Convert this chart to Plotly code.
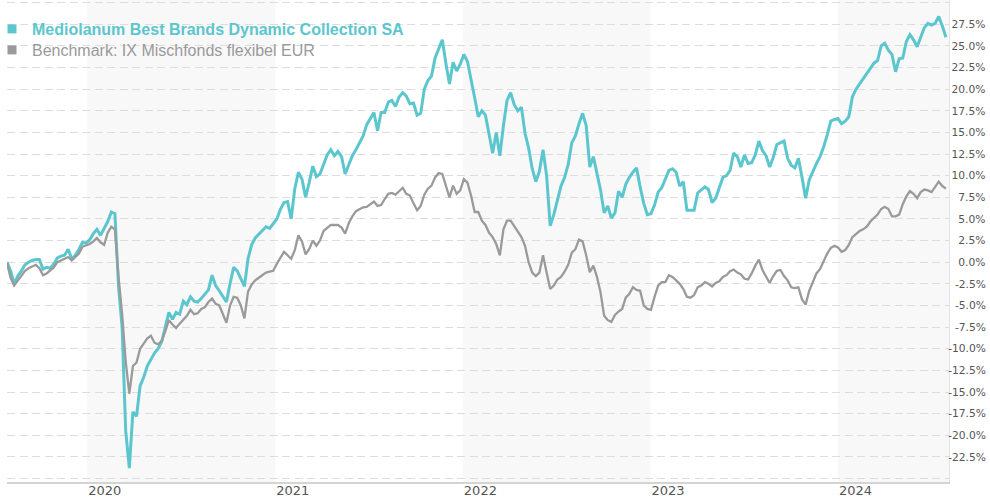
import pandas as pd
import plotly.graph_objects as go

start_date = "2019-07-29"

fund_values = [
    0.0, -1.0, -2.5, -1.6, -1.0, -0.3, 0.0, 0.2, 0.3, 0.3,
    -0.8, -0.6, -0.7, -0.2, 0.5, 0.7, 0.8, 1.5, 0.4, 0.8,
    1.5, 2.3, 2.2, 2.6, 3.3, 3.8, 3.1, 3.9, 4.7, 5.8,
    5.6, -2.8, -7.5, -19.5, -23.8, -17.3, -17.8, -14.3, -13.3, -12.0,
    -11.2, -10.5, -10.0, -9.2, -7.5, -5.8, -6.6, -5.8, -6.0, -4.5,
    -4.9, -4.0, -4.5, -4.6, -4.2, -3.65, -3.2, -1.5, -2.7, -3.3,
    -3.9, -4.6, -2.5, -0.6, -1.0, -2.0, -2.8, 0.4, 2.0, 2.8,
    3.2, 3.7, 4.1, 3.9, 4.4, 5.0, 6.1, 6.9, 7.0, 5.0,
    8.5, 10.4, 9.6, 7.5, 9.2, 11.1, 9.9, 10.2, 11.3, 12.4,
    13.0, 12.3, 12.8, 12.2, 10.2, 11.2, 12.3, 13.0, 13.8, 14.6,
    15.9, 16.6, 17.3, 15.2, 17.3, 17.3, 18.5, 18.7, 18.0, 19.1,
    19.6, 19.2, 18.3, 18.4, 17.0, 17.2, 20.0, 21.0, 21.5, 23.6,
    24.7, 25.7, 23.0, 20.6, 23.1, 22.1, 22.9, 24.0, 23.2, 20.9,
    19.0, 16.8, 17.5, 17.0, 15.0, 12.6, 15.0, 12.3, 15.8, 18.7,
    19.6, 18.2, 17.5, 17.9, 14.9, 13.2, 10.8, 9.3, 10.5, 13.0,
    10.0, 4.2, 5.5, 7.2, 8.8, 9.8, 11.3, 13.8, 14.6, 16.0,
    17.2, 15.8, 11.0, 12.2, 10.2, 8.3, 5.7, 6.5, 5.1, 5.7,
    8.2, 7.5, 9.0, 9.8, 10.4, 10.9, 8.7, 6.8, 5.5, 5.6,
    6.6, 8.1, 8.6, 9.6, 10.6, 10.8, 10.4, 8.8, 9.3, 6.0,
    6.0, 6.0, 8.0, 8.4, 8.7, 8.4, 6.9, 7.4, 8.6, 9.8,
    10.0, 10.6, 12.6, 12.2, 11.0, 12.4, 11.4, 11.5, 12.4, 14.0,
    12.9, 12.3, 11.0, 12.1, 13.6, 13.8, 14.0, 12.0, 11.2, 10.9,
    12.0, 9.8, 7.4, 9.5, 10.5, 11.4, 12.2, 13.3, 14.7, 16.3,
    16.5, 16.6, 16.0, 16.3, 16.8, 19.1, 20.0, 20.6, 21.3, 21.8,
    22.4, 23.0, 23.3, 25.0, 25.3, 24.5, 24.0, 22.0, 23.5, 23.6,
    25.5, 26.3, 25.7, 24.9, 26.0, 27.1, 27.6, 27.4, 27.6, 28.4,
    27.3, 26.0,
]

benchmark_values = [
    -0.1, -1.8, -2.7, -2.1, -1.6, -1.0, -0.7, -0.5, -0.3, -0.7,
    -1.5, -1.3, -0.9, -0.6, 0.0, 0.2, 0.4, 0.6, 0.2, 0.6,
    1.0, 1.8, 1.95, 2.1, 2.4, 2.8, 2.3, 2.0, 3.4, 4.1,
    3.8, -1.7, -6.0, -11.5, -15.2, -12.0, -11.6, -10.0, -9.4, -8.8,
    -8.5, -9.3, -9.5, -9.1, -8.0, -6.7, -7.2, -7.6, -7.1, -6.7,
    -6.2, -5.5, -6.0, -5.9, -5.4, -5.2, -4.6, -4.2, -4.8, -5.0,
    -5.9, -7.0, -5.0, -4.0, -4.1, -5.0, -6.5, -3.4, -2.6, -2.1,
    -1.8, -1.5, -1.2, -1.1, -1.0, -0.2, 0.5, 1.2, 0.8, 0.4,
    1.4, 3.1, 2.4, 0.9, 1.5, 2.5, 1.9, 2.5, 3.6, 4.0,
    4.3, 4.3, 4.3, 4.0, 3.3, 4.5, 5.3, 5.9, 6.15, 6.35,
    6.4, 6.7, 7.0, 6.5, 6.6, 7.3, 7.9, 8.0, 7.8, 8.2,
    8.6, 7.9, 7.7, 6.8, 6.0, 6.5, 7.8, 8.5, 8.85, 9.8,
    10.3, 10.2, 8.8, 7.5, 8.85, 7.9, 8.3, 9.6, 9.2, 7.7,
    5.8, 5.8, 4.8, 4.3, 3.4, 2.9, 2.1, 0.8, 3.8, 4.8,
    4.8, 4.2, 3.5, 2.9, 1.9, 0.0, -1.2, -1.6, -1.2, 0.8,
    -1.2, -3.1, -2.7, -2.0, -1.7, -1.1, -0.3, 1.1, 1.5, 2.6,
    2.4, 0.8, -1.15, -0.4, -1.7, -3.5, -6.2, -6.7, -6.9, -6.1,
    -5.7, -5.4, -4.1, -3.65, -2.9, -3.2, -3.3, -5.0, -5.4, -5.5,
    -4.0, -2.7, -2.3, -2.3, -1.5, -1.7, -2.1, -2.5, -3.1, -4.0,
    -4.1, -3.8, -2.9, -2.7, -2.3, -2.5, -2.8, -2.4, -2.2, -1.7,
    -1.5, -1.05, -0.85, -1.2, -1.4, -1.9, -2.0, -1.3, -0.4, 0.3,
    -0.9, -1.6, -2.4, -1.6, -1.0, -0.9, -1.6, -2.1, -2.9, -3.0,
    -2.9, -4.3, -4.9, -3.3, -2.2, -1.3, -0.8, 0.2, 1.0, 1.65,
    1.9, 1.7, 1.2, 1.4, 2.0, 2.9, 3.3, 3.6, 3.8, 4.1,
    4.7, 5.1, 5.5, 6.15, 6.4, 6.15, 5.3, 5.3, 5.5, 6.7,
    7.6, 8.2, 7.9, 7.4, 8.1, 8.4, 8.3, 8.1, 8.7, 9.3,
    8.8, 8.5,
]

dates = pd.date_range(start_date, periods=len(fund_values), freq="7D")

fund_name = "Mediolanum Best Brands Dynamic Collection SA"
bench_name = "Benchmark: IX Mischfonds flexibel EUR"

year_ticks = ["2020-01-01", "2021-01-01", "2022-01-01", "2023-01-01", "2024-01-01"]
year_labels = ["2020", "2021", "2022", "2023", "2024"]
shaded_years = [("2020-01-01", "2021-01-01"), ("2022-01-01", "2023-01-01"), ("2024-01-01", "2025-01-01")]

y_ticks = [-25 + 2.5 * i for i in range(23)]
x_range = ["2019-07-29", "2024-08-04"]
y_range = [-25.4, 30.3]

TEAL = "#5cc6ce"
GRAY = "#9a9a9a"


def pct_label(v):
    if v > 29 or v < -24:
        return ""
    s = f"{v:.1f}%"
    if v >= 10:
        return "\u2008" + s
    if v >= 0:
        return "\u2007\u2008" + s
    if v > -10:
        return "\u2007" + s
    return s


fig = go.Figure()
fig.add_trace(go.Scatter(x=dates, y=fund_values, mode="lines",
                         line=dict(color=TEAL, width=3), showlegend=False,
                         hoverinfo="skip"))
fig.add_trace(go.Scatter(x=dates, y=benchmark_values, mode="lines",
                         line=dict(color=GRAY, width=2.3), showlegend=False,
                         hoverinfo="skip"))
# legend entries
fig.add_trace(go.Scatter(x=[None], y=[None], mode="markers", showlegend=True,
                         marker=dict(symbol="square", size=9, color=TEAL),
                         legend="legend",
                         name=f"<b><span style='color:{TEAL}'>{fund_name}</span></b>"))
fig.add_trace(go.Scatter(x=[None], y=[None], mode="markers", showlegend=True,
                         marker=dict(symbol="square", size=9, color=GRAY),
                         legend="legend2",
                         name=f"<span style='color:{GRAY}'>{bench_name}</span>"))

for a, b in shaded_years:
    fig.add_shape(type="rect", xref="x", yref="paper", x0=a, x1=b, y0=0, y1=1,
                  fillcolor="#f8f8f8", line=dict(width=0), layer="below")

legend_common = dict(xanchor="left", yanchor="top", bgcolor="rgba(0,0,0,0)",
                     font=dict(family="Liberation Sans, Arial, sans-serif", size=16))

fig.update_layout(
    width=990, height=498,
    margin=dict(l=7, r=41, t=0, b=16, autoexpand=False),
    paper_bgcolor="white", plot_bgcolor="white",
    hovermode=False,
    showlegend=True,
    legend=dict(x=-15 / 942, y=1 - 12 / 482, **legend_common),
    legend2=dict(x=-15 / 942, y=1 - 33 / 482, **legend_common),
    xaxis=dict(range=x_range, type="date", showgrid=False, zeroline=False,
               tickvals=year_ticks, ticktext=year_labels, ticks="",
               ticklabelposition="outside right", ticklabelshift=0,
               ticklabelstandoff=-5,
               tickfont=dict(family="DejaVu Sans, Verdana, sans-serif", size=13, color="#555555"),
               showline=True, linecolor="#d4d4d4", linewidth=2, automargin=False),
    yaxis=dict(range=y_range, side="right", tickvals=y_ticks,
               ticktext=[pct_label(v) for v in y_ticks], ticks="",
               showgrid=True, gridcolor="#dddddd", gridwidth=1, griddash="8px,4.5px",
               zeroline=False, showline=True, linecolor="#e4e4e4", linewidth=1,
               tickfont=dict(family="DejaVu Sans, Verdana, sans-serif", size=10.7, color="#555555"),
               ticklabelstandoff=-4, automargin=False),
)

fig.write_html("out.html", config={"displayModeBar": False},
               post_script="document.body.style.margin='0';document.body.style.overflow='hidden';")
